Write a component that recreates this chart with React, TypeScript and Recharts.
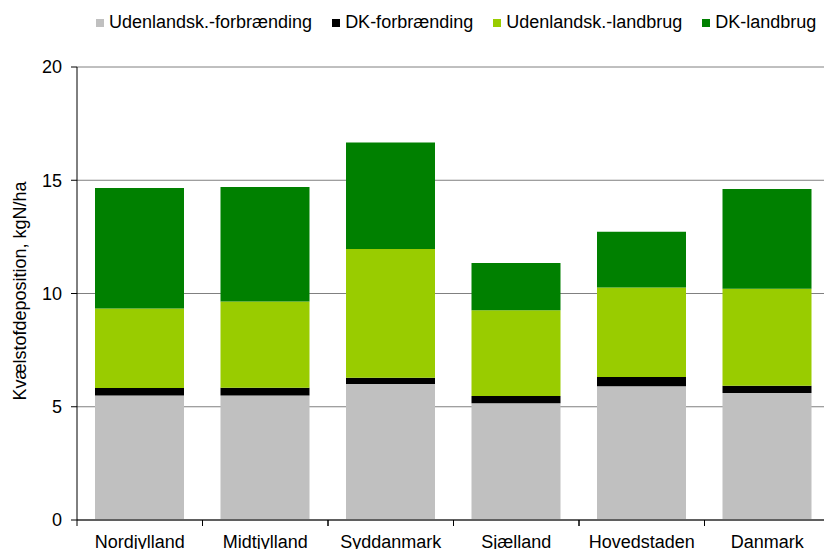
import { Bar, BarChart, CartesianGrid, XAxis, YAxis } from "recharts";

const regions = ["Nordjylland", "Midtjylland", "Syddanmark", "Sjælland", "Hovedstaden", "Danmark"];
const udlForbraending = [5.5, 5.5, 6.0, 5.15, 5.9, 5.61];
const dkForbraending = [0.33, 0.34, 0.28, 0.32, 0.41, 0.32];
const udlLandbrug = [3.51, 3.81, 5.68, 3.79, 3.96, 4.28];
const dkLandbrug = [5.32, 5.05, 4.71, 2.09, 2.46, 4.4];
const yTicks = [0, 5, 10, 15, 20];

const series = [
  { key: "udlForb", name: "Udenlandsk.-forbrænding", color: "#c0c0c0", values: udlForbraending },
  { key: "dkForb", name: "DK-forbrænding", color: "#000000", values: dkForbraending },
  { key: "udlLand", name: "Udenlandsk.-landbrug", color: "#99cc00", values: udlLandbrug },
  { key: "dkLand", name: "DK-landbrug", color: "#008000", values: dkLandbrug },
];

const chartData = regions.map((region, i) => {
  const row: Record<string, string | number> = { region };
  series.forEach((s) => {
    row[s.key] = s.values[i];
  });
  return row;
});

const W = 840;
const H = 549;
const MARGIN = { top: 67, right: 10, left: 0, bottom: 0 };
const YAXIS_W = 77;
const XAXIS_H = 29;
const AXIS_Y = H - MARGIN.bottom - XAXIS_H;
const BAND = (W - MARGIN.left - MARGIN.right - YAXIS_W) / regions.length;
const FONT = "'Liberation Sans', Arial, sans-serif";

function XTick(props: any) {
  const { x, payload } = props;
  const left = x - BAND / 2;
  return (
    <g>
      <line x1={left} x2={left} y1={AXIS_Y} y2={AXIS_Y + 6} stroke="#000" />
      <line x1={left + BAND} x2={left + BAND} y1={AXIS_Y} y2={AXIS_Y + 6} stroke="#000" />
      <text x={x} y={AXIS_Y + 15} dy="0.71em" textAnchor="middle" fill="#000" fontSize={18} fontFamily={FONT}>
        {payload.value}
      </text>
    </g>
  );
}

function YLabel() {
  return (
    <text
      x={20}
      y={291}
      transform="rotate(-90 20 291)"
      textAnchor="middle"
      dominantBaseline="central"
      fill="#000"
      fontSize={18}
      fontFamily={FONT}
    >
      Kvælstofdeposition, kgN/ha
    </text>
  );
}

function TopLegend() {
  return (
    <div
      style={{
        position: "absolute",
        left: 96,
        top: 12,
        display: "flex",
        alignItems: "center",
        fontFamily: FONT,
        fontSize: 18,
        whiteSpace: "nowrap",
      }}
    >
      {series.map((s) => (
        <div key={s.key} style={{ display: "flex", alignItems: "center", marginRight: 20 }}>
          <span style={{ width: 8, height: 8, background: s.color, marginRight: 5, display: "inline-block" }} />
          <span>{s.name}</span>
        </div>
      ))}
    </div>
  );
}

export default function App() {
  return (
    <div style={{ position: "absolute", left: 0, top: 0, width: 824, height: 549, overflow: "hidden", background: "#fff" }}>
      <TopLegend />
      <BarChart width={W} height={H} data={chartData} margin={MARGIN} barSize={89}>
        <CartesianGrid vertical={false} stroke="#808080" />
        <XAxis
          dataKey="region"
          height={XAXIS_H}
          tickLine={false}
          axisLine={{ stroke: "#000" }}
          tick={<XTick />}
          interval={0}
        />
        <YAxis
          width={YAXIS_W}
          domain={[0, 20]}
          ticks={yTicks}
          tickSize={6}
          tickMargin={9}
          axisLine={{ stroke: "#000" }}
          tickLine={{ stroke: "#000" }}
          tick={{ fill: "#000", fontSize: 18, fontFamily: FONT }}
          label={{ content: () => <YLabel /> }}
        />
        {series.map((s) => (
          <Bar key={s.key} dataKey={s.key} name={s.name} stackId="a" fill={s.color} isAnimationActive={false} />
        ))}
      </BarChart>
    </div>
  );
}
